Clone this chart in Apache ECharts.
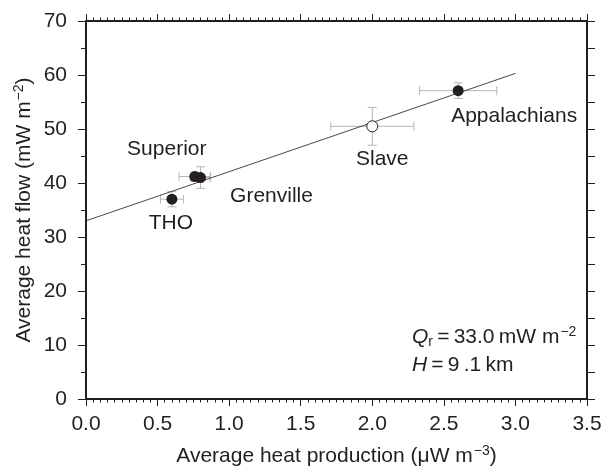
<!DOCTYPE html>
<html>
<head>
<meta charset="utf-8">
<script src="https://cdn.jsdelivr.net/npm/echarts@6/dist/echarts.min.js"></script>
<style>
  html, body { margin: 0; padding: 0; background: #fff; }
  #chart { width: 604px; height: 468px; }
</style>
</head>
<body>
<div id="chart"></div>
<script>
// Province averages: heat production (µW m^-3) vs heat flow (mW m^-2)
const regions        = ['THO', 'Superior', 'Grenville', 'Slave', 'Appalachians'];
const heatProduction = [0.60, 0.76, 0.80, 2.00, 2.60];
const heatFlow       = [37.0, 41.2, 41.0, 50.5, 57.1];
const productionErr  = [0.08, 0.11, 0.067, 0.29, 0.27];
const flowErr        = [1.4, 0.8, 2.0, 3.5, 1.45];
const openMarker     = [false, false, false, true, false];

// Linear fit: Q = Qr + H * A
const reducedFlow = 33.0;   // mW m^-2
const depthScale  = 9.1;    // km
const fitRange    = [0, 3.0];

const INK = '#231f20';
const FONT = "'Liberation Sans', Arial, Helvetica, sans-serif";

// label placement around each marker (px)
const labelOffset = {
  'THO': [-1, 24],
  'Superior': [-28, -27],
  'Grenville': [71, 19],
  'Slave': [10, 33],
  'Appalachians': [56, 26]
};

const pointData = regions.map((name, i) => ({
  name: name,
  value: [heatProduction[i], heatFlow[i]],
  itemStyle: openMarker[i]
    ? { color: '#fff', borderColor: INK, borderWidth: 1, opacity: 1 }
    : { color: INK, borderWidth: 0, opacity: 1 },
  label: { offset: labelOffset[name] }
}));

const errorData = regions.map((name, i) =>
  [heatProduction[i], heatFlow[i], productionErr[i], flowErr[i]]);

const fitData = fitRange.map(a => [a, reducedFlow + depthScale * a]);

function renderErrorBar(params, api) {
  const x = api.value(0), y = api.value(1);
  const ex = api.value(2), ey = api.value(3);
  const c = api.coord([x, y]);
  const l = api.coord([x - ex, y]);
  const r = api.coord([x + ex, y]);
  const t = api.coord([x, y + ey]);
  const b = api.coord([x, y - ey]);
  const cap = 4.5;
  const style = { stroke: '#b5b5b5', lineWidth: 1 };
  const seg = (x1, y1, x2, y2) => ({ type: 'line', shape: { x1, y1, x2, y2 }, style });
  return {
    type: 'group',
    children: [
      seg(l[0], c[1], r[0], c[1]),
      seg(l[0], c[1] - cap, l[0], c[1] + cap),
      seg(r[0], c[1] - cap, r[0], c[1] + cap),
      seg(c[0], t[1], c[0], b[1]),
      seg(c[0] - cap, t[1], c[0] + cap, t[1]),
      seg(c[0] - cap, b[1], c[0] + cap, b[1])
    ]
  };
}

const axisLine = { show: true, onZero: false, lineStyle: { color: INK, width: 2 } };
const tickStyle = { color: INK, width: 1 };

function xAxisDef(position, withLabels) {
  return {
    type: 'value', position: position, min: 0, max: 3.5, interval: 0.5,
    axisLine: axisLine,
    axisTick: { show: true, inside: false, length: 7, lineStyle: tickStyle },
    minorTick: { show: true, splitNumber: 10, length: 3.5, lineStyle: tickStyle },
    axisLabel: {
      show: withLabels, margin: 15, fontSize: 21, color: INK, fontFamily: FONT,
      formatter: v => v.toFixed(1)
    },
    splitLine: { show: false }, minorSplitLine: { show: false }
  };
}

function yAxisDef(position, withLabels, minorLen) {
  return {
    type: 'value', position: position, min: 0, max: 70, interval: 10,
    axisLine: axisLine,
    axisTick: { show: true, inside: false, length: 8, lineStyle: tickStyle },
    minorTick: { show: true, splitNumber: 2, length: minorLen, lineStyle: tickStyle },
    axisLabel: {
      show: withLabels, margin: 19, fontSize: 21, color: INK, fontFamily: FONT,
      formatter: v => String(v)
    },
    splitLine: { show: false }, minorSplitLine: { show: false }
  };
}

const nameRich = {
  t: { fontSize: 21, color: INK, fontFamily: FONT },
  sup: { fontSize: 14, color: INK, fontFamily: FONT, verticalAlign: 'top', padding: [0, 0, 10, 1] }
};

const xBottom = xAxisDef('bottom', true);
Object.assign(xBottom, {
  name: '{t|Average heat production (\u03bcW m}{sup|\u22123}{t|)}',
  nameLocation: 'middle', nameGap: 45, nameMoveOverlap: false,
  nameTextStyle: { color: INK, fontFamily: FONT, fontSize: 21, rich: nameRich }
});

const yLeft = yAxisDef('left', true, 5);
Object.assign(yLeft, {
  name: '{t|Average heat flow (mW m}{sup|\u22122}{t|)}',
  nameLocation: 'middle', nameGap: 50, nameMoveOverlap: false,
  nameTextStyle: { color: INK, fontFamily: FONT, fontSize: 21, rich: nameRich }
});

const chart = echarts.init(document.getElementById('chart'), null, { renderer: 'canvas' });

chart.setOption({
  backgroundColor: '#fff',
  animation: false,
  textStyle: { fontFamily: FONT },
  grid: {
    left: 86, right: 17, top: 21, bottom: 69,
    containLabel: false, outerBoundsMode: 'none'
  },
  xAxis: [xBottom, xAxisDef('top', false)],
  yAxis: [yLeft, yAxisDef('right', false, 8)],
  series: [
    {
      type: 'custom', name: 'error', z: 1, silent: true,
      renderItem: renderErrorBar,
      data: errorData,
      encode: { x: 0, y: 1 }
    },
    {
      type: 'line', name: 'fit', z: 2, silent: true,
      data: fitData, showSymbol: false, symbol: 'none',
      lineStyle: { color: '#333', width: 0.9, opacity: 1 }
    },
    {
      type: 'scatter', name: 'provinces', z: 3, silent: true,
      symbol: 'circle', symbolSize: 11,
      itemStyle: { opacity: 1 },
      data: pointData,
      label: {
        show: true, position: 'inside', formatter: '{b}',
        align: 'center', verticalAlign: 'middle', opacity: 1,
        fontSize: 21, color: INK, fontFamily: FONT
      }
    }
  ],
  graphic: [
    {
      type: 'text', x: 412, y: 337.5, silent: true,
      style: {
        text: '{i|Q}{sub|r}{n|\u2009=\u200933.0\u2009mW m}{sup|\u22122}',
        verticalAlign: 'middle', fill: INK, font: '21px ' + FONT,
        rich: {
          i: { fontSize: 21, fontStyle: 'italic', fill: INK, fontFamily: FONT },
          sub: { fontSize: 14, fill: INK, fontFamily: FONT, verticalAlign: 'bottom', padding: [8, 0, 0, 0] },
          n: { fontSize: 21, fill: INK, fontFamily: FONT },
          sup: { fontSize: 14, fill: INK, fontFamily: FONT, verticalAlign: 'top', padding: [0, 0, 10, 1] }
        }
      }
    },
    {
      type: 'text', x: 412, y: 365.5, silent: true,
      style: {
        text: '{i|H}{n|\u2009=\u20099\u2009.1\u2009km}',
        verticalAlign: 'middle', fill: INK, font: '21px ' + FONT,
        rich: {
          i: { fontSize: 21, fontStyle: 'italic', fill: INK, fontFamily: FONT },
          n: { fontSize: 21, fill: INK, fontFamily: FONT }
        }
      }
    }
  ]
});
</script>
</body>
</html>
